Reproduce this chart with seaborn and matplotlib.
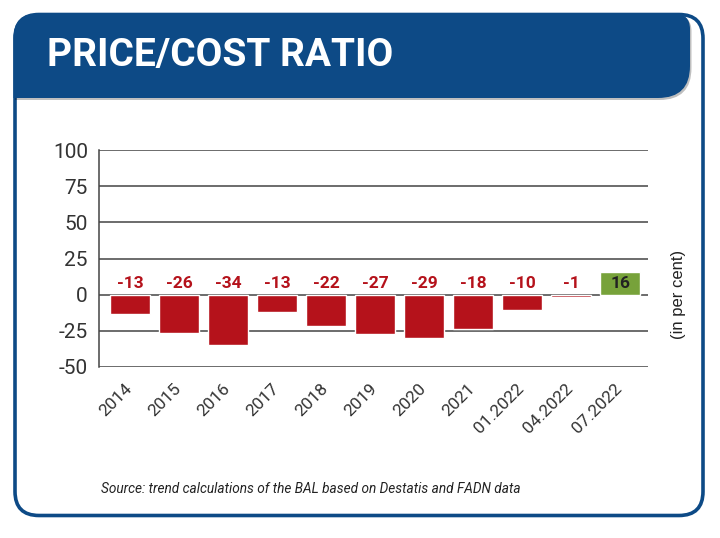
import numpy as np
import pandas as pd
import matplotlib
matplotlib.use("Agg")
import matplotlib.pyplot as plt
import matplotlib.transforms as mtransforms
import seaborn as sns
from matplotlib.path import Path
from matplotlib.patches import PathPatch, FancyBboxPatch

# Data
periods = ["2014", "2015", "2016", "2017", "2018", "2019", "2020",
           "2021", "01.2022", "04.2022", "07.2022"]
bar_heights = [-13.2, -26.2, -34.7, -12.1, -21.4, -27.4, -29.7,
               -23.5, -10.3, -1.8, 16.0]
value_labels = ["-13", "-26", "-34", "-13", "-22", "-27", "-29",
                "-18", "-10", "-1", "16"]
y_ticks = [100, 75, 50, 25, 0, -25, -50]

BLUE = "#0d4a86"
RED = "#b5121b"
GREEN = "#77a23a"
font = ["Roboto", "DejaVu Sans"]

df = pd.DataFrame({"period": periods, "value": bar_heights})
colors = [GREEN if v > 0 else RED for v in bar_heights]

sns.set_theme(style="white")
plt.rcParams["font.family"] = font
plt.rcParams["axes.unicode_minus"] = False

fig = plt.figure(figsize=(7.2, 5.38), dpi=100)

# Frame and header drawn in pixel coordinates
bg = fig.add_axes([0, 0, 1, 1], zorder=0)
bg.set_xlim(0, 720)
bg.set_ylim(538, 0)
bg.axis("off")

frame = FancyBboxPatch((15, 14.5), 688, 501, boxstyle="round,pad=0,rounding_size=24",
                       facecolor="white", edgecolor=BLUE, linewidth=2.6)
bg.add_patch(frame)

verts = [(13.5, 98), (13.5, 38), (13.5, 13.5), (38, 13.5), (674, 13.5),
         (690, 13.5), (690, 29), (690, 66), (690, 98), (658, 98), (13.5, 98)]
codes = [Path.MOVETO, Path.LINETO, Path.CURVE3, Path.CURVE3, Path.LINETO,
         Path.CURVE3, Path.CURVE3, Path.LINETO, Path.CURVE3, Path.CURVE3,
         Path.CLOSEPOLY]
shadow = [(x + 1.5, y + 2) for x, y in verts]
bg.add_patch(PathPatch(Path(shadow, codes), facecolor="#000000", alpha=0.25, edgecolor="none"))
bg.add_patch(PathPatch(Path(verts, codes), facecolor=BLUE, edgecolor="none"))
bg.text(47, 56, "PRICE/COST RATIO", color="white", fontsize=28, fontweight="bold",
        va="center", ha="left")

# Chart
ax = fig.add_axes([99 / 720, 1 - 367 / 538, 549 / 720, 217 / 538], zorder=2)
ax.patch.set_alpha(0)
sns.barplot(data=df, x="period", y="value", hue="period", palette=colors,
            legend=False, width=0.82, saturation=1, ax=ax)

ax.set_xlim(-0.633, 10.57)
ax.set_ylim(-50, 100)
ax.set_yticks(y_ticks)
ax.set_axisbelow(True)
ax.yaxis.grid(True, color="#444444", linewidth=1.1)
ax.xaxis.grid(False)
for side in ["top", "right", "bottom"]:
    ax.spines[side].set_visible(False)
ax.spines["left"].set_color("#444444")
ax.spines["left"].set_linewidth(1.1)
ax.set_xlabel("")
ax.set_ylabel("")
ax.tick_params(axis="both", length=0)
ax.tick_params(axis="y", pad=8, labelsize=15, labelcolor="#333333")
ax.set_xticks(range(len(periods)))
ax.set_xticklabels(periods, rotation=45, ha="right", rotation_mode="anchor",
                   fontsize=12.5, color="#333333")
ax.tick_params(axis="x", pad=10)
shift = mtransforms.ScaledTranslation(-6 / 100, 0, fig.dpi_scale_trans)
for lbl in ax.get_xticklabels():
    lbl.set_transform(lbl.get_transform() + shift)

for i, (v, lab) in enumerate(zip(bar_heights, value_labels)):
    ax.text(i, 8, lab, ha="center", va="center", fontsize=12.5, fontweight="bold",
            color="#222222" if v > 0 else RED)

fig.text(678 / 720, 1 - 294 / 538, "(in per cent)", rotation=90, ha="center", va="center",
         fontsize=12, family=["Liberation Sans", "DejaVu Sans"], color="#222222")
fig.text(101 / 720, 1 - 489 / 538, "Source: trend calculations of the BAL based on Destatis and FADN data",
         ha="left", va="center", fontsize=9.8, style="italic", color="#222222")

plt.savefig("out.png", dpi=100)
